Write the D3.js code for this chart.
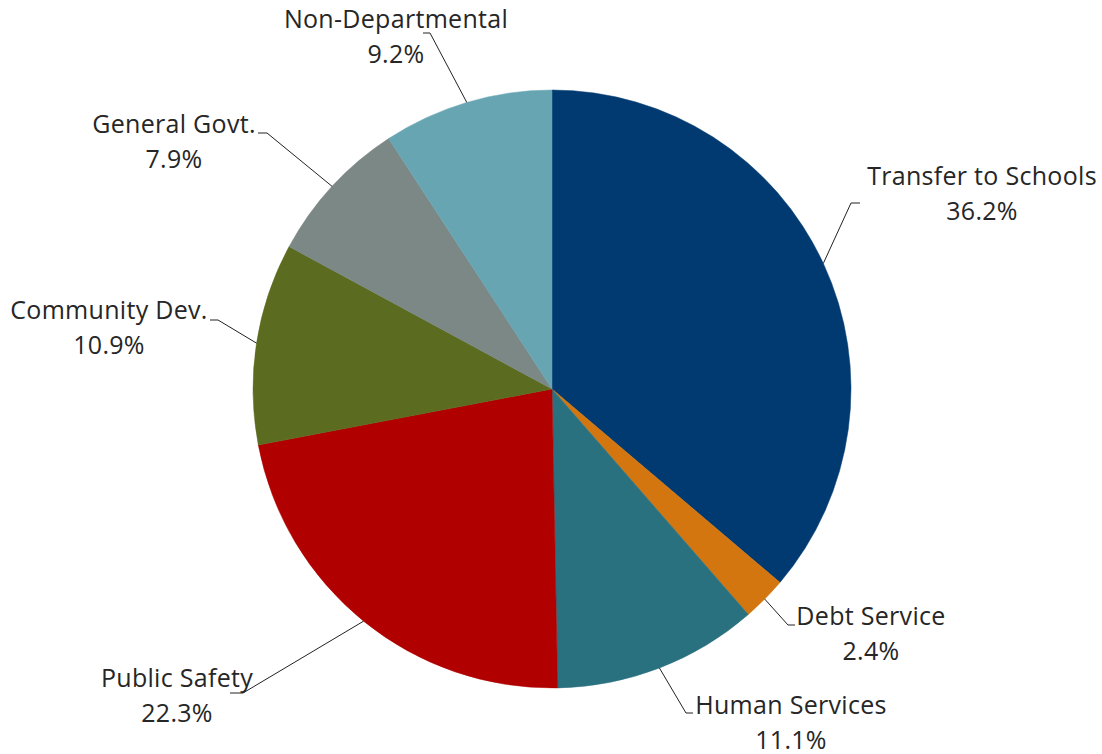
<!DOCTYPE html>
<html>
<head>
<meta charset="utf-8">
<script src="https://cdn.jsdelivr.net/npm/d3@7"></script>
<style>
  html, body { margin: 0; padding: 0; background: #fff; }
  svg { display: block; }
  text { font-family: "Open Sans", sans-serif; }
</style>
</head>
<body>
<svg id="chart" width="1102" height="754"></svg>
<script>
// ---- data ----
const categories = ["Transfer to Schools", "Debt Service", "Human Services", "Public Safety",
                    "Community Dev.", "General Govt.", "Non-Departmental"];
const shares = [36.2, 2.4, 11.1, 22.3, 10.9, 7.9, 9.2];
const percentLabels = ["36.2%", "2.4%", "11.1%", "22.3%", "10.9%", "7.9%", "9.2%"];

// ---- styling / layout (kept separate from data) ----
const colors = ["#003a70", "#d3760f", "#2a7180", "#b00000", "#5b6b1f", "#7b8886", "#67a5b3"];
// label layout: text centre x, first baseline y, leader elbow (x,y), leader end x
const labelLayout = [
  { tx: 982, ty: 185, ex: 851, ey: 203, hx: 860 },
  { tx: 871, ty: 625, ex: 788, ey: 625, hx: 795 },
  { tx: 791, ty: 714, ex: 686, ey: 713, hx: 693 },
  { tx: 177, ty: 687, ex: 243, ey: 693, hx: 230 },
  { tx: 109, ty: 319, ex: 218, ey: 320, hx: 210 },
  { tx: 174, ty: 133, ex: 267, ey: 133, hx: 258 },
  { tx: 396, ty: 28,  ex: 430, ey: 33,  hx: 423 }
];

const cx = 552, cy = 389, radius = 299;
const svg = d3.select("#chart");
const g = svg.append("g").attr("transform", `translate(${cx},${cy})`);

const data = categories.map((c, i) => ({ name: c, value: shares[i], pct: percentLabels[i], i }));
const pie = d3.pie().value(d => d.value).sort(null);
const arc = d3.arc().innerRadius(0).outerRadius(radius);
const arcs = pie(data);

g.selectAll("path.slice")
  .data(arcs)
  .join("path")
  .attr("class", "slice")
  .attr("d", arc)
  .attr("fill", d => colors[d.data.i])
  .attr("stroke", d => colors[d.data.i])
  .attr("stroke-width", 0.5);

// leader lines
const edgeArc = d3.arc().innerRadius(radius).outerRadius(radius);
arcs.forEach(d => {
  const L = labelLayout[d.data.i];
  const [px, py] = edgeArc.centroid(d);
  svg.append("polyline")
    .attr("points", `${cx + px},${cy + py} ${L.ex},${L.ey} ${L.hx},${L.ey}`)
    .attr("fill", "none")
    .attr("stroke", "#222")
    .attr("stroke-width", 1);
});

// labels
const lbl = svg.selectAll("text.lbl")
  .data(data)
  .join("text")
  .attr("class", "lbl")
  .attr("text-anchor", "middle")
  .attr("font-size", 25)
  .attr("letter-spacing", "0.3px")
  .attr("fill", "#262626");
lbl.append("tspan")
  .attr("x", d => labelLayout[d.i].tx)
  .attr("y", d => labelLayout[d.i].ty)
  .text(d => d.name);
lbl.append("tspan")
  .attr("x", d => labelLayout[d.i].tx)
  .attr("y", d => labelLayout[d.i].ty + 35)
  .text(d => d.pct);
</script>
</body>
</html>
